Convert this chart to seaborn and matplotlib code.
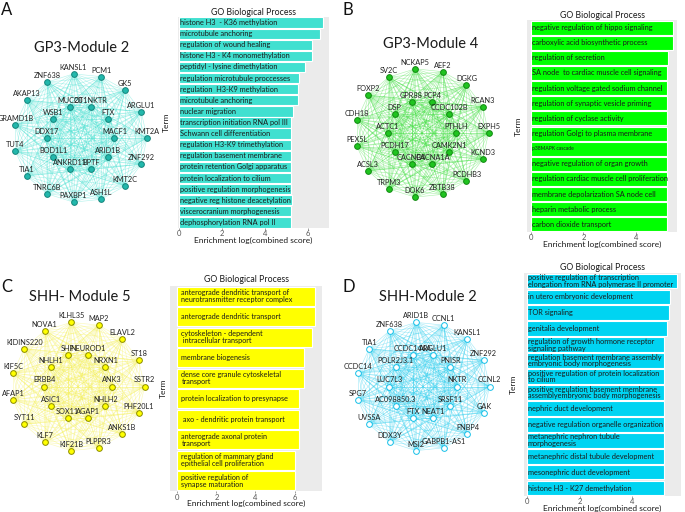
import numpy as np
import pandas as pd
import matplotlib
matplotlib.use('Agg')
import matplotlib.pyplot as plt
from matplotlib.collections import LineCollection
import seaborn as sns
from itertools import combinations

# ---- datos de las redes (anillo externo / interno, en sentido horario) ----
a_outer = ['KANSL1', 'PCM1', 'GK5', 'ARGLU1', 'KMT2A', 'ZNF292', 'KMT2C', 'ASH1L',
           'PAXBP1', 'TNRC6B', 'TIA1', 'TUT4', 'GRAMD1B', 'AKAP13', 'ZNF638']
a_inner = ['MUC20', 'OT1NKTR', 'FTX', 'MACF1', 'ARID1B', 'BPTF', 'ANKRD11',
           'BOD1L1', 'DDX17', 'WSB1']

b_outer = ['NCKAP5', 'AEF2', 'DGKG', 'RCAN3', 'EXPH5', 'KCND3', 'PCDHB3', 'ZBTB38',
           'DOK6', 'TRPM3', 'ACSL3', 'PEX5L', 'CDH18', 'FOXP2', 'SV2C']
b_inner = ['GPR88', 'PCP4', 'CCDC102B', 'PTHLH', 'CAMK2N1', 'CACNA1A', 'CACNB4',
           'PCDH17', 'ACTC1', 'DSP']

c_outer = ['KLHL35', 'MAP2', 'ELAVL2', 'ST18', 'SSTR2', 'PHF20L1', 'ANKS1B', 'PLPPR3',
           'KIF21B', 'KLF7', 'SYT11', 'AFAP1', 'KIF5C', 'KIDINS220', 'NOVA1']
c_inner = ['SHF', 'NEUROD1', 'NRXN1', 'ANK3', 'NHLH2', 'AGAP1', 'SOX11',
           'ASIC1', 'ERBB4', 'NHLH1']

d_outer = ['ARID1B', 'CCNL1', 'KANSL1', 'ZNF292', 'CCNL2', 'GAK', 'FNBP4', 'GABPB1-AS1',
           'MSI2', 'DDX3Y', 'UVSSA', 'SPG7', 'CCDC14', 'TIA1', 'ZNF638']
d_inner = ['CCDC144A', 'ARGLU1', 'PNISR', 'NKTR', 'SRSF11', 'NEAT1', 'FTX',
           'AC098850.3', 'LUC7L3', 'POLR2J3.1']

# ---- datos de enriquecimiento GO ----
a_terms = ['histone H3  - K36 methylation', 'microtubule anchoring', 'regulation of wound healing',
           'histone H3 - K4 monomethylation', 'peptidyl - lysine dimethylation',
           'regulation microtubule proccesses', 'regulation  H3-K9 methylation',
           'microtubule anchoring', 'nuclear migration', 'transcription initiation RNA pol III',
           'Schwann cell differentiation', 'regulation H3-K9 trimethylation',
           'regulation basement membrane', 'protein retention Golgi apparatus',
           'protein localization to cilium', 'positive regulation morphogenesis',
           'negative reg histone deacetylation', 'viscerocranium morphogenesis',
           'dephosphorylation RNA pol II']
a_scores = [6.70, 6.56, 6.20, 6.20, 5.87, 5.59, 5.57, 5.57, 5.34, 5.23,
            5.23, 5.23, 5.23, 5.23, 5.23, 5.23, 5.26, 5.23, 5.23]

b_terms = ['negative regulation of hippo signaling', 'carboxylic acid biosynthetic process',
           'regulation of secretion', 'SA node  to cardiac muscle cell signaling',
           'regulation voltage gated sodium channel', 'regulation of synaptic vesicle priming',
           'regulation of cyclase activity', 'regulation Golgi to plasma membrane',
           'p38MAPK cascade', 'negative regulation of organ growth',
           'regulation cardiac muscle cell proliferation', 'membrane depolarization SA node cell',
           'heparin metabolic process', 'carbon dioxide transport']
b_scores = [5.41, 5.41, 5.22, 5.19, 5.19, 5.19, 5.19, 5.19, 5.19, 5.19, 5.19, 5.19, 5.19, 5.19]

c_terms = ['anterograde dendritic transport of\nneurotransmitter receptor complex',
           'anterograde dendritic transport',
           'cytoskeleton - dependent\n intracellular transport',
           'membrane biogenesis',
           'dense core granule cytoskeletal\ntransport',
           'protein localization to presynapse',
           ' axo - dendritic protein transport',
           'anterograde axonal protein\ntransport',
           'regulation of mammary gland\nepithelial cell proliferation',
           'positive regulation of\nsynapse maturation']
c_scores = [7.06, 7.06, 6.87, 6.46, 6.46, 6.23, 6.23, 6.23, 6.04, 6.04]

d_terms = ['positive regulation of transcription\nelongation from RNA polymerase II promoter',
           'in utero embryonic development', 'TOR signaling', 'genitalia development',
           'regulation of growth hormone receptor\nsignaling pathway',
           'regulation basement membrane assembly\nembryonic body morphogenesis',
           'positive regulation of protein localization\nto cilium',
           'positive regulation basement membrane\nassemblyembryonic body morphogenesis',
           'nephric duct development', 'negative regulation organelle organization',
           'metanephric nephron tubule\nmorphogenesis', 'metanephric distal tubule development',
           'mesonephric duct development', 'histone H3 - K27 demethylation']
d_scores = [5.70, 5.45, 5.40, 5.33, 5.23, 5.23, 5.23, 5.23, 5.23, 5.23, 5.23, 5.23, 5.23, 5.23]

W, H = 685, 512
plt.rcParams['font.family'] = ['Lato', 'DejaVu Sans']
fig = plt.figure(figsize=(W / 100, H / 100), dpi=100)


def px_box(x0, y0, x1, y1):
    # caja en pixeles (origen arriba a la izquierda) -> fracciones de figura
    return [x0 / W, 1 - y1 / H, (x1 - x0) / W, (y1 - y0) / H]


def shell_pos(outer, inner, r_in=0.51):
    pos = {}
    for k, name in enumerate(outer):
        a = np.deg2rad(-6 + 360 / len(outer) * k)
        pos[name] = (np.sin(a), np.cos(a))
    for k, name in enumerate(inner):
        a = np.deg2rad(-18 + 360 / len(inner) * k)
        pos[name] = (r_in * np.sin(a), r_in * np.cos(a))
    return pos


def draw_network(cx, cy, outer, inner, edge_col, face, edge, title, title_xy):
    rx, ry, m = 66.5, 64.5, 1.25
    ax = fig.add_axes(px_box(cx - m * rx, cy - m * ry, cx + m * rx, cy + m * ry))
    ax.set_xlim(-m, m)
    ax.set_ylim(-m, m)
    ax.axis('off')
    pos = shell_pos(outer, inner)
    names = outer + inner
    segs = [[pos[u], pos[v]] for u, v in combinations(names, 2)]
    ax.add_collection(LineCollection(segs, colors=edge_col, linewidths=0.45, alpha=0.38, zorder=1))
    nodes = pd.DataFrame({'x': [pos[n][0] for n in names], 'y': [pos[n][1] for n in names]})
    sns.scatterplot(data=nodes, x='x', y='y', ax=ax, s=17, color=face, edgecolor=edge,
                    linewidth=0.7, zorder=3, legend=False)
    for n in names:
        ax.annotate(n, pos[n], xytext=(0, 2.2), textcoords='offset points', ha='center',
                    va='bottom', fontsize=5.3, color='#222222', zorder=4)
    fig.text(title_xy[0] / W, 1 - title_xy[1] / H, title, ha='center', va='center',
             fontsize=10.5, color='#1a1a1a')


def draw_bars(box, terms, scores, color, xlim, ticks, title_pad, ylab_dx, indent, fs):
    ax = fig.add_axes(px_box(*box))
    w, h = box[2] - box[0], box[3] - box[1]
    df = pd.DataFrame({'pos': [str(i) for i in range(len(terms))], 'score': scores})
    sns.barplot(data=df, x='score', y='pos', ax=ax, color=color, saturation=1, width=0.92,
                edgecolor='white', linewidth=0.8, orient='h', errorbar=None)
    ax.set_facecolor('#EBEBEB')
    for s in ax.spines.values():
        s.set_visible(False)
    ax.set_xlim(*xlim)
    ax.set_ylim(len(terms) - 0.5, -0.5)
    ax.set_xticks(ticks)
    ax.set_yticks([])
    ax.tick_params(axis='x', length=1.5, width=0.5, pad=0.3, labelsize=5.5,
                   colors='#777777', labelcolor='#555555')
    ax.set_xlabel('Enrichment log(combined score)', fontsize=6, color='#1a1a1a')
    ax.xaxis.label.set_va('center')
    ax.xaxis.set_label_coords(0.5, -12.3 / h)
    ax.set_ylabel('Term', fontsize=6, color='#1a1a1a')
    ax.yaxis.label.set_va('center')
    ax.yaxis.set_label_coords(-ylab_dx / w, 0.5)
    ax.set_title('GO Biological Process', fontsize=6.3, pad=title_pad, color='#1a1a1a')
    for i, t in enumerate(terms):
        size = 3.6 if t == 'p38MAPK cascade' else fs
        ax.annotate(t, xy=(0, i), xytext=(indent, 0), textcoords='offset points', ha='left',
                    va='center', fontsize=size, linespacing=0.95, color='#1a1a1a')
    return ax


# A
draw_network(80.5, 138, a_outer, a_inner, '#40E0D0', '#22B8AC', '#15857C', 'GP3-Module 2', (82, 47.5))
draw_bars((178, 17, 329, 228), a_terms, a_scores, '#40E0D0', (-0.06, 7.0), [0, 2, 4, 6], 0.6, 12, 0.8, 5.35)
# B
draw_network(422, 133, b_outer, b_inner, '#33DD33', '#1FC41F', '#128A12', 'GP3-Module 4', (431, 44))
draw_bars((527, 20, 677, 232), b_terms, b_scores, '#00FF00', (-0.15, 5.57), [0, 2, 4], 1.0, 9, 0.5, 5.3)
# C
draw_network(78, 386.5, c_outer, c_inner, '#F5F04A', '#FFFF00', '#8C8C00', 'SHH- Module 5', (80, 296.7))
draw_bars((170, 286, 322, 491), c_terms, c_scores, '#FFFF00', (-0.37, 7.4), [0, 2, 4, 6], 3.0, 7, 3.0, 5.25)
# D
draw_network(423, 386.5, d_outer, d_inner, '#22CCEE', 'white', '#15C0E8', 'SHH-Module 2', (428, 296.7))
draw_bars((524, 273, 681, 496), d_terms, d_scores, '#00D4F2', (-0.13, 5.87), [0, 2, 4], 2.5, 11, 0.2, 5.3)

for lab, (x, y) in zip('ABCD', [(1, 2), (343, 2), (1, 279), (343, 279)]):
    fig.text(x / W, 1 - y / H, lab, fontsize=12, va='top', ha='left', color='#111111')

fig.savefig('out.png', dpi=100)
